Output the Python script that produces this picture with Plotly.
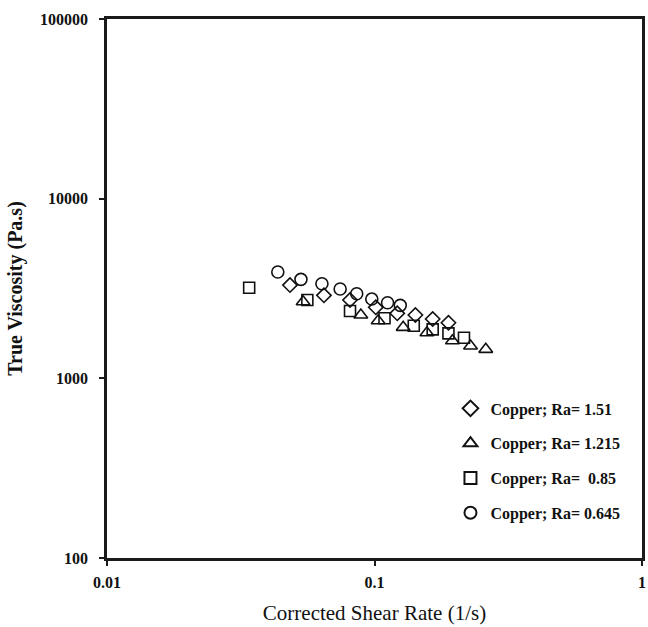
import plotly.graph_objects as go

# Corrected shear rate (1/s) and true viscosity (Pa.s) per surface roughness
shear_ra_151 = [0.0483, 0.0647, 0.081, 0.1011, 0.1216, 0.1422, 0.165, 0.189]
visc_ra_151 = [3305, 2897, 2728, 2484, 2300, 2251, 2138, 2039]

shear_ra_1215 = [0.0541, 0.0889, 0.1032, 0.128, 0.157, 0.1956, 0.2286, 0.2606]
visc_ra_1215 = [2669, 2251, 2092, 1922, 1794, 1619, 1513, 1450]

shear_ra_085 = [0.034, 0.0561, 0.081, 0.109, 0.1402, 0.165, 0.189, 0.216]
visc_ra_085 = [3193, 2728, 2369, 2158, 1962, 1874, 1780, 1683]

shear_ra_0645 = [0.0435, 0.0531, 0.0636, 0.0744, 0.0858, 0.0977, 0.1119, 0.1248]
visc_ra_0645 = [3905, 3556, 3362, 3140, 2957, 2762, 2635, 2548]

series_names = ["Copper; Ra= 1.51", "Copper; Ra= 1.215", "Copper; Ra=  0.85", "Copper; Ra= 0.645"]
symbols = ["diamond-open", "triangle-up-open", "square-open", "circle-open"]
sizes = [11, 12, 11, 12]

x_tick_vals = [0.01, 0.1, 1]
x_tick_text = ["0.01", "0.1", "1"]
y_tick_vals = [100, 1000, 10000, 100000]
y_tick_text = ["100", "1000", "10000", "100000"]

serif = "Liberation Serif, Times New Roman, serif"

fig = go.Figure()
data = [
    (shear_ra_151, visc_ra_151),
    (shear_ra_1215, visc_ra_1215),
    (shear_ra_085, visc_ra_085),
    (shear_ra_0645, visc_ra_0645),
]
for i, (xs, ys) in enumerate(data):
    fig.add_trace(go.Scatter(
        x=xs, y=ys, mode="markers", name=series_names[i],
        legendgroup=f"g{i}",
        marker=dict(symbol=symbols[i], size=sizes[i], color="#111111",
                    line=dict(width=1.6, color="#111111")),
    ))

axis_common = dict(
    type="log",
    automargin=False,
    ticklabeloverflow="allow",
    showgrid=False, zeroline=False,
    showline=True, linecolor="#1a1a1a", linewidth=2.5, mirror=True,
    ticks="outside", ticklen=5, tickwidth=2, tickcolor="#1a1a1a",
    tickfont=dict(family=serif, size=16, color="#111111", weight="bold"),
)

fig.update_layout(
    width=648, height=627,
    margin=dict(l=107, r=6, t=19, b=69),
    paper_bgcolor="white", plot_bgcolor="white",
    xaxis=dict(
        **axis_common,
        range=[-2, 0],
        tickvals=x_tick_vals, ticktext=x_tick_text,
        ticklabelstandoff=3,
        title=dict(text="Corrected Shear Rate (1/s)",
                   font=dict(family=serif, size=21, color="#111111"),
                   standoff=16),
    ),
    yaxis=dict(
        **axis_common,
        range=[2, 5],
        tickvals=y_tick_vals, ticktext=y_tick_text,
        ticklabelstandoff=8,
        title=dict(text="True Viscosity (Pa.s)",
                   font=dict(family=serif, size=20, color="#111111", weight="bold"),
                   standoff=13),
    ),
    legend=dict(
        x=0.642, y=0.309, xanchor="left", yanchor="top",
        bgcolor="rgba(0,0,0,0)",
        font=dict(family=serif, size=16, color="#111111", weight="bold"),
        itemsizing="constant",
        tracegroupgap=11,
        itemwidth=30,
    ),
    showlegend=True,
)

fig.write_html("out.html")
